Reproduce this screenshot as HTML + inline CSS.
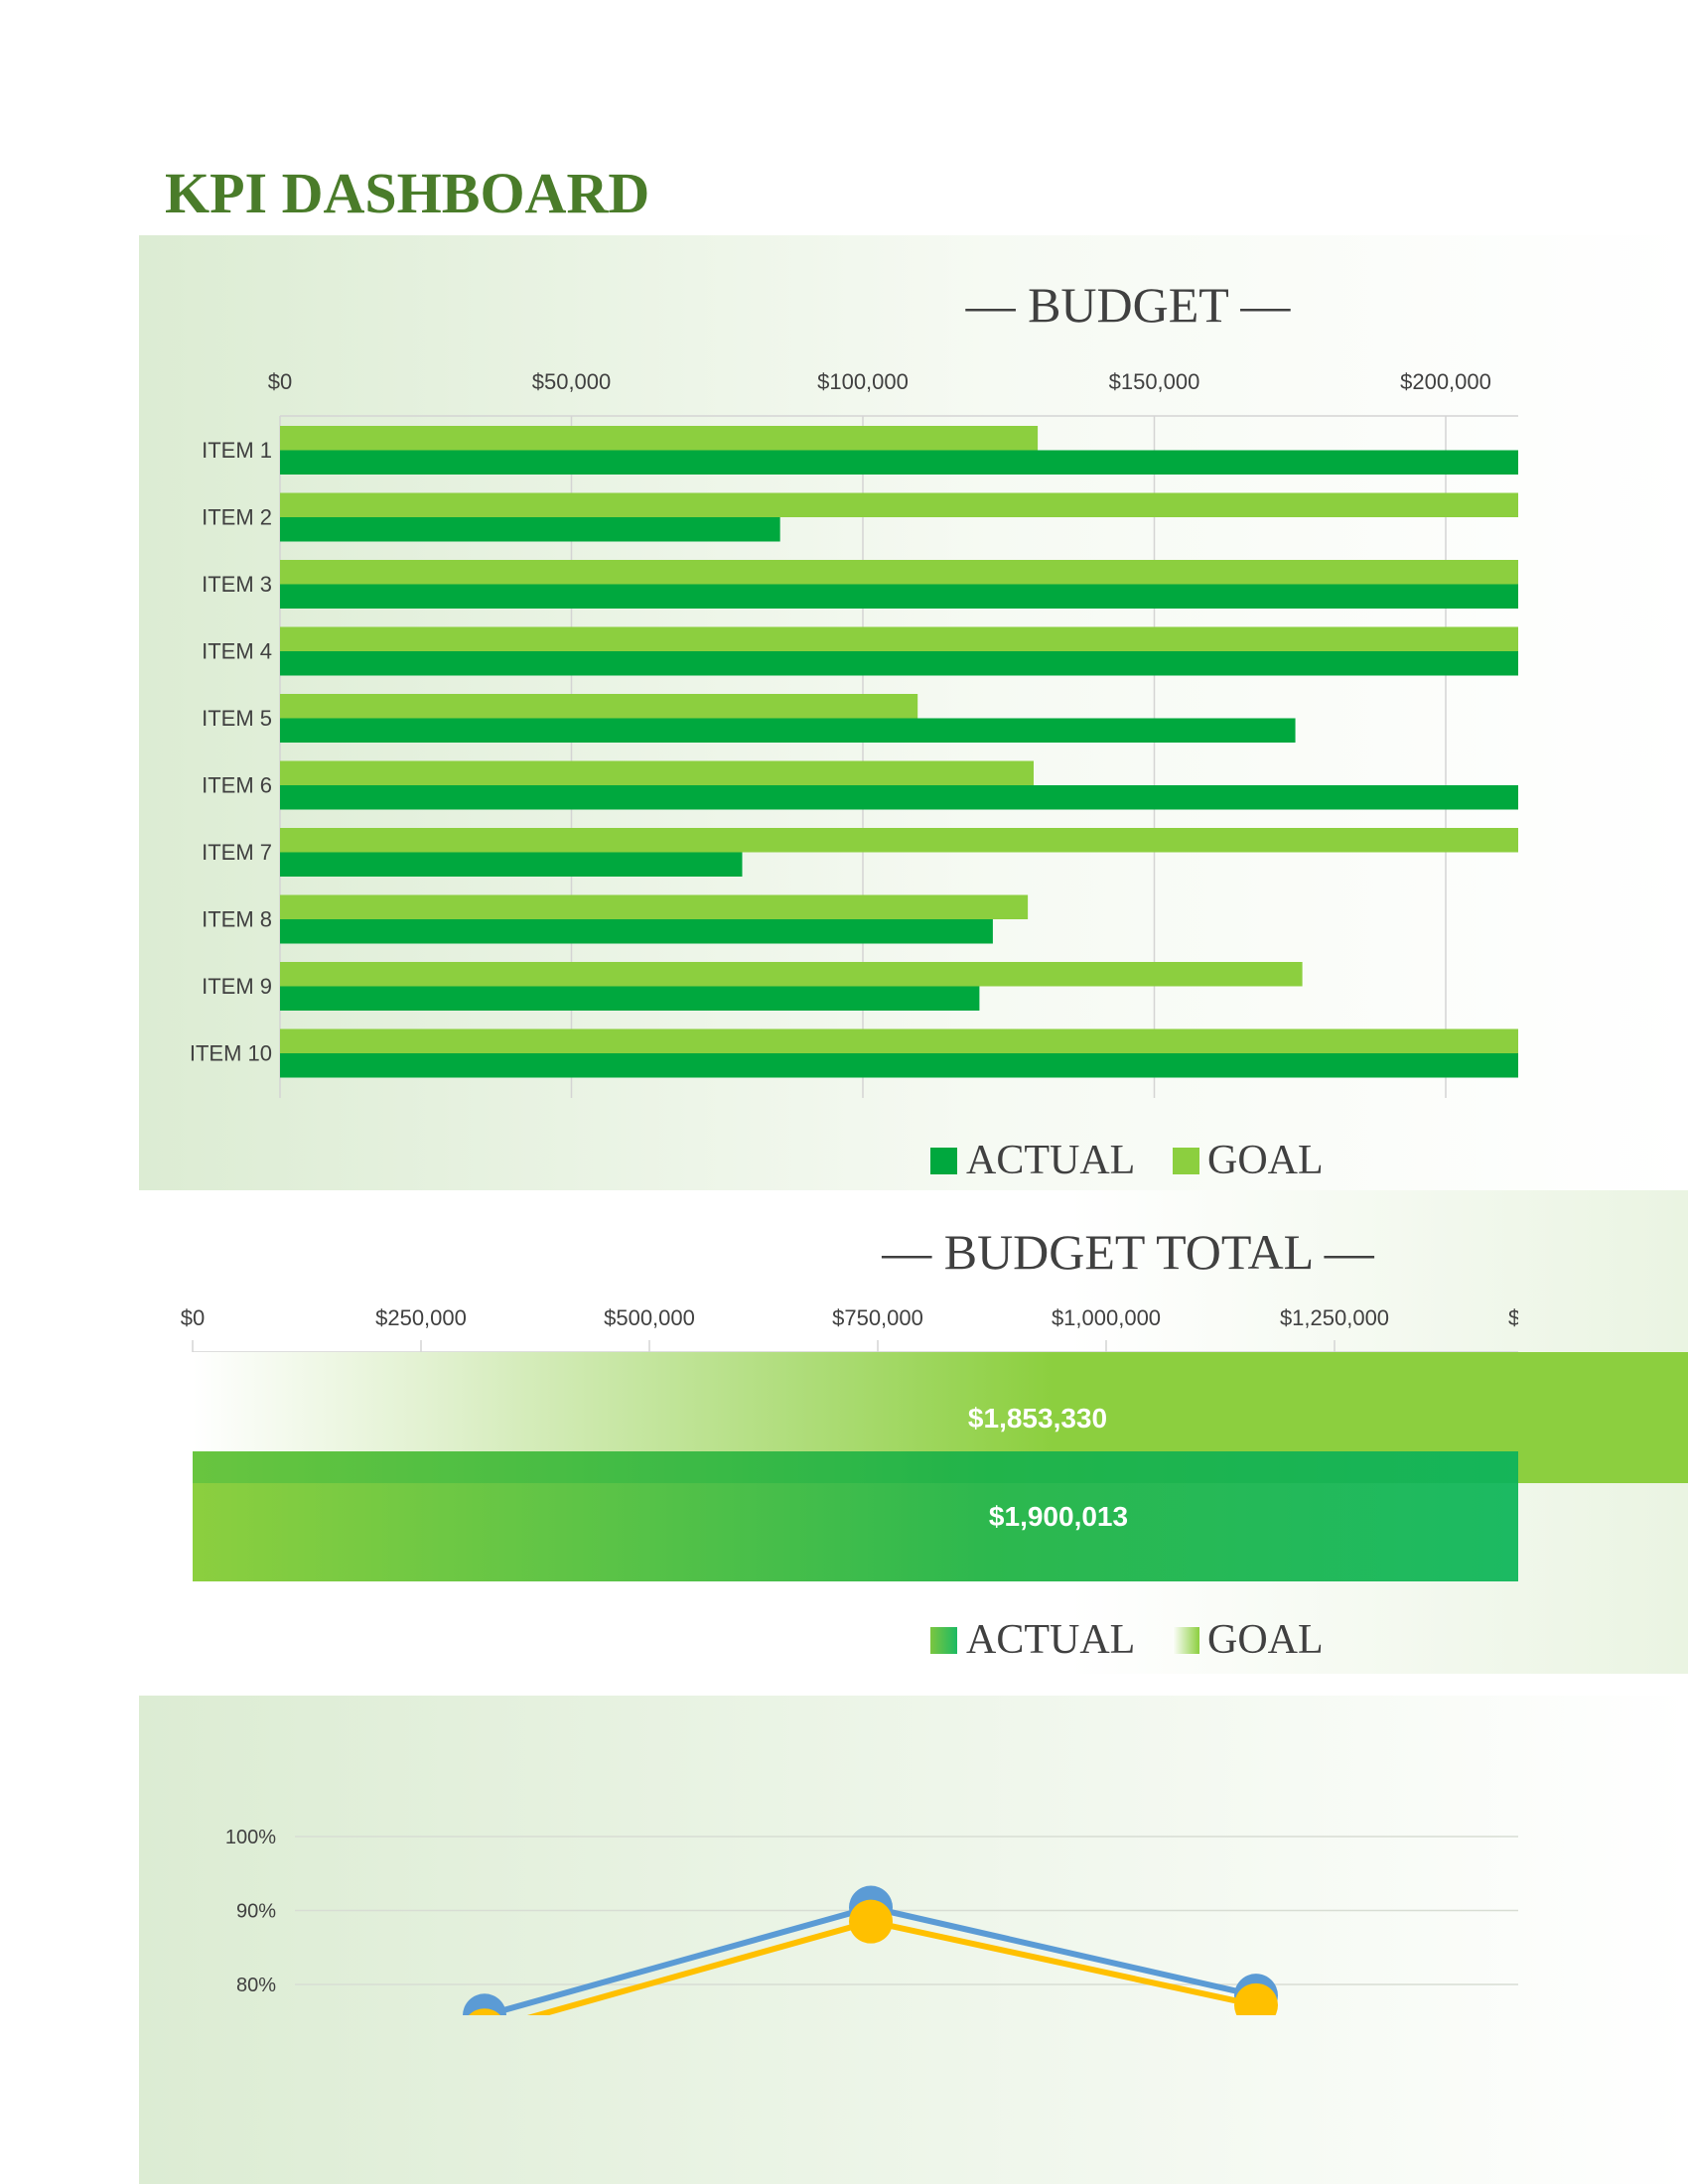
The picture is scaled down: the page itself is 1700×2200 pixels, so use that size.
<!DOCTYPE html>
<html><head><meta charset="utf-8"><style>
body{margin:0;width:1700px;height:2200px;background:#fff;position:relative;overflow:hidden;font-family:"Liberation Sans",sans-serif}
svg{position:absolute;left:0;top:0}
</style></head><body>
<svg width="1700" height="2200">
<defs>
<linearGradient id="p1" x1="0" x2="1"><stop offset="0" stop-color="#dcecd3"/><stop offset="0.55" stop-color="#f6faf3"/><stop offset="1" stop-color="#fff"/></linearGradient>
<linearGradient id="p2" x1="0" x2="1"><stop offset="0.6" stop-color="#fff"/><stop offset="1" stop-color="#eaf4e2"/></linearGradient>
<linearGradient id="p3" x1="0" x2="1"><stop offset="0" stop-color="#dcecd3"/><stop offset="1" stop-color="#fff"/></linearGradient>
<linearGradient id="gGoal" gradientUnits="userSpaceOnUse" x1="194" x2="1060" y1="0" y2="0"><stop offset="0" stop-color="#fff"/><stop offset="0.3" stop-color="#dff0cc"/><stop offset="1" stop-color="#8ccf3f"/></linearGradient>
<linearGradient id="gAct" gradientUnits="userSpaceOnUse" x1="194" x2="1529" y1="0" y2="0"><stop offset="0" stop-color="#8ccf3f"/><stop offset="0.6" stop-color="#2db84e"/><stop offset="1" stop-color="#1cba62"/></linearGradient>
<linearGradient id="lgA" x1="0" x2="1"><stop offset="0" stop-color="#7cc640"/><stop offset="1" stop-color="#1cba62"/></linearGradient>
<linearGradient id="lgG" x1="0" x2="1"><stop offset="0" stop-color="#fff"/><stop offset="1" stop-color="#8ccf3f"/></linearGradient>
<clipPath id="c1"><rect x="282" y="400" width="1247" height="720"/></clipPath>
<clipPath id="c2a"><rect x="194" y="1350" width="1335" height="260"/></clipPath>
<clipPath id="c3"><rect x="140" y="1708" width="1560" height="322"/></clipPath>
</defs>
<rect x="140" y="237" width="1560" height="962" fill="url(#p1)"/>
<rect x="140" y="1199" width="1560" height="487" fill="url(#p2)"/>
<rect x="140" y="1708" width="1560" height="492" fill="url(#p3)"/>
<text x="166" y="214" font-family="Liberation Serif,serif" font-weight="bold" font-size="58" fill="#4a7c2a">KPI DASHBOARD</text>
<text x="1136" y="324" text-anchor="middle" font-family="Liberation Serif,serif" font-size="50" fill="#404040">— BUDGET —</text>
<g id="budget"></g>
<text x="1136" y="1278" text-anchor="middle" font-family="Liberation Serif,serif" font-size="50" fill="#404040">— BUDGET TOTAL —</text>
<g id="total"></g>
<g id="line"></g>
</svg>
<script>
const NS="http://www.w3.org/2000/svg";
function mk(p,t,a,txt){const e=document.createElementNS(NS,t);for(const k in a)e.setAttribute(k,a[k]);if(txt!==undefined)e.textContent=txt;p.appendChild(e);return e;}
// Budget chart data
const items=["ITEM 1","ITEM 2","ITEM 3","ITEM 4","ITEM 5","ITEM 6","ITEM 7","ITEM 8","ITEM 9","ITEM 10"];
const goalVals=[130000,250000,250000,250000,109400,129300,250000,128300,175400,250000];
const actualVals=[250000,85800,250000,250000,174200,250000,79300,122300,120000,250000];
const budgetTicks=[0,50000,100000,150000,200000];
const budgetTickLabels=["$0","$50,000","$100,000","$150,000","$200,000"];
const bx=v=>282+v/50000*293.5;
const top1=419,band=67.5;
const b=document.getElementById('budget');
budgetTicks.forEach((t,i)=>{
 let l=mk(b,'line',{x1:bx(t),x2:bx(t),y1:top1,y2:1106,stroke:'#d4d4d4','stroke-width':1.5});
 
 
 let tx=mk(b,'text',{x:bx(t),y:392,'text-anchor':'middle','font-size':22,fill:'#404040'},budgetTickLabels[i]);
 
 
});
mk(b,'line',{x1:282,x2:1529,y1:top1,y2:top1,stroke:'#d4d4d4','stroke-width':1.5});
const cg=mk(b,'g',{'clip-path':'url(#c1)'});
items.forEach((n,i)=>{
 const y0=top1+i*band+10;
 let g=mk(cg,'rect',{x:282,y:y0,width:bx(goalVals[i])-282,height:24.5,fill:'#8ccf3f'});
 
 
 let a=mk(cg,'rect',{x:282,y:y0+24.5,width:bx(actualVals[i])-282,height:24.5,fill:'#00a83e'});
 
 
 let t=mk(b,'text',{x:274,y:y0+32,'text-anchor':'end','font-size':22,fill:'#404040'},n);
 
 
});
function legend(p,y,fa,fg){
 let r1=mk(p,'rect',{x:937,y:y-26,width:27,height:27,fill:fa});
 
 
 let t1=mk(p,'text',{x:973,y:y,'font-family':'Liberation Serif,serif','font-size':42,fill:'#404040'},'ACTUAL');
 
 
 let r2=mk(p,'rect',{x:1181,y:y-26,width:27,height:27,fill:fg});
 
 
 let t2=mk(p,'text',{x:1216,y:y,'font-family':'Liberation Serif,serif','font-size':42,fill:'#404040'},'GOAL');
 
 
}
legend(b,1182,'#00a83e','#8ccf3f');
// Budget total data
const totalGoal=[1853330];
const totalActual=[1900013];
const totalTicks=[0,250000,500000,750000,1000000,1250000,1500000];
const totalTickLabels=["$0","$250,000","$500,000","$750,000","$1,000,000","$1,250,000","$1,500,000"];
const tx2=v=>194+v/250000*230;
const T=document.getElementById('total');
const tc=mk(T,'g',{});
totalTicks.forEach((t,i)=>{
 if(tx2(t)>1535)return;
 let l=mk(T,'line',{x1:tx2(t),x2:tx2(t),y1:1350,y2:1362,stroke:'#d4d4d4','stroke-width':1.5});
 
 
});
const clipTxt=mk(T,'clipPath',{id:'c2t'});mk(clipTxt,'rect',{x:0,y:1290,width:1529,height:60});
const tl=mk(T,'g',{'clip-path':'url(#c2t)'});
totalTicks.forEach((t,i)=>{
 let s=mk(tl,'text',{x:tx2(t),y:1335,'text-anchor':'middle','font-size':22,fill:'#404040'},totalTickLabels[i]);
 
 
});
mk(T,'line',{x1:194,x2:1529,y1:1362,y2:1362,stroke:'#d4d4d4','stroke-width':1.5});
let gb=mk(T,'rect',{x:194,y:1362,width:tx2(totalGoal[0])-194,height:132,fill:'url(#gGoal)'});


const ca=mk(T,'g',{'clip-path':'url(#c2a)'});
let ab=mk(ca,'rect',{x:194,y:1462,width:tx2(totalActual[0])-194,height:131,fill:'url(#gAct)'});


mk(ca,'rect',{x:194,y:1462,width:tx2(totalActual[0])-194,height:32,fill:'#00a83e','fill-opacity':0.25});
let gl=mk(T,'text',{x:1045,y:1438,'text-anchor':'middle','font-size':28,'font-weight':'bold',fill:'#fff'},'$'+totalGoal[0].toLocaleString('en-US'));


let al=mk(T,'text',{x:1066,y:1537,'text-anchor':'middle','font-size':28,'font-weight':'bold',fill:'#fff'},'$'+totalActual[0].toLocaleString('en-US'));


legend(T,1665,'url(#lgA)','url(#lgG)');
// Line chart data
const pctTicks=[80,90,100];
const blueVals=[75.8,90.4,78.5];
const yellowVals=[73.8,88.5,77.2];
const ptX=[488,877,1265];
const ly=p=>1999-(p-80)*7.45;
const L=document.getElementById('line');
pctTicks.forEach(p=>{
 let l=mk(L,'line',{x1:297,x2:1529,y1:ly(p),y2:ly(p),stroke:'#d8ddd4','stroke-width':1.5});
 
 
 let t=mk(L,'text',{x:278,y:ly(p)+7,'text-anchor':'end','font-size':20,fill:'#404040'},p+'%');
 
 
});
const lc=mk(L,'g',{'clip-path':'url(#c3)'});
[[blueVals,'#5b9bd5','blue'],[yellowVals,'#ffc000','yellow']].forEach(([vals,c,nm])=>{
 let pl=mk(lc,'polyline',{points:vals.map((v,i)=>ptX[i]+','+ly(v)).join(' '),fill:'none',stroke:c,'stroke-width':6});
 
 
 vals.forEach((v,i)=>{
  let ci=mk(lc,'circle',{cx:ptX[i],cy:ly(v),r:22,fill:c});
  
  
 });
});
</script>
</body></html>
